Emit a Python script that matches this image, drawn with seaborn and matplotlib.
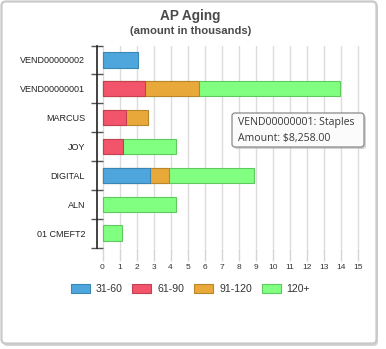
import matplotlib
matplotlib.use("Agg")
import matplotlib.pyplot as plt
from matplotlib.patches import FancyBboxPatch, Patch
from matplotlib.ticker import FixedLocator
import pandas as pd
import seaborn as sns

# AP aging buckets per vendor, in thousands of dollars
vendors = ["VEND00000002", "VEND00000001", "MARCUS", "JOY", "DIGITAL", "ALN", "01 CMEFT2"]
buckets = ["31-60", "61-90", "91-120", "120+"]
amt_31_60 = [2.1, 0.0, 0.0, 0.0, 2.8, 0.0, 0.0]
amt_61_90 = [0.0, 2.5, 1.4, 1.2, 0.0, 0.0, 0.0]
amt_91_120 = [0.0, 3.2, 1.3, 0.0, 1.1, 0.0, 0.0]
amt_120_plus = [0.0, 8.258, 0.0, 3.1, 5.0, 4.3, 1.15]
x_ticks = list(range(0, 16))

colors = {"31-60": "#4ea6dc", "61-90": "#f2546b", "91-120": "#e9a83a", "120+": "#80ff80"}
edges = {"31-60": "#3b86b4", "61-90": "#c2404f", "91-120": "#b9852b", "120+": "#5fc95f"}

W, H = 386, 349
sns.set_theme(style="white")
plt.rcParams["font.family"] = ["Liberation Sans", "DejaVu Sans"]

fig = plt.figure(figsize=(W / 100, H / 100), dpi=100)
fig.patch.set_facecolor("white")


def fx(px):
    return px / W


def fy(py):
    return 1 - py / H


# card background with shadow
shadow = FancyBboxPatch((fx(3), fy(346)), fx(375), (343 / H),
                        boxstyle="round,pad=0,rounding_size=0.012",
                        transform=fig.transFigure, facecolor="#d4d4d4",
                        edgecolor="none", zorder=0)
fig.patches.append(shadow)
card = FancyBboxPatch((fx(1.5), fy(343.5)), fx(375), (342 / H),
                      boxstyle="round,pad=0,rounding_size=0.012",
                      transform=fig.transFigure, facecolor="white",
                      edgecolor="#c9c9c9", linewidth=1.6, zorder=0.5)
fig.patches.append(card)

# stacked layout: draw cumulative totals back to front
series = {"31-60": amt_31_60, "61-90": amt_61_90, "91-120": amt_91_120, "120+": amt_120_plus}
rows = []
for i, v in enumerate(vendors):
    cum = 0.0
    for b in buckets:
        seg = series[b][i]
        cum += seg
        if seg > 0:
            rows.append({"vendor": v, "bucket": b, "total": cum})
df = pd.DataFrame(rows)

x0_px, unit_px = 102.5, 17.01
xmin = (96.7 - x0_px) / unit_px
xmax = (362.8 - x0_px) / unit_px
ax = fig.add_axes([fx(96.7), fy(247.5), fx(362.8) - fx(96.7), 202 / H])
ax.set_facecolor("none")
ax.set_zorder(2)

draw_order = buckets[::-1]
sns.barplot(data=df, y="vendor", x="total", hue="bucket", order=vendors,
            hue_order=draw_order, palette=colors, dodge=False, width=0.53,
            orient="h", errorbar=None, legend=False, ax=ax,
            linewidth=0.8, saturation=1)
for b, container in zip(draw_order, ax.containers):
    for patch in container:
        patch.set_edgecolor(edges[b])

ax.set_xlim(xmin, xmax)
ax.set_ylim(6.5, -0.5)
ax.set_xticks(x_ticks)
ax.set_xticklabels([str(t) for t in x_ticks])
ax.set_xlabel("")
ax.set_ylabel("")

for s in ["top", "right", "bottom"]:
    ax.spines[s].set_visible(False)
ax.spines["left"].set_color("#222222")
ax.spines["left"].set_linewidth(1.2)

ax.grid(axis="x", color="#dcdcdc", linewidth=1.0)
ax.set_axisbelow(True)
ax.tick_params(axis="x", length=9.4, width=1.0, color="#d6d6d6", pad=2.5,
               labelsize=6, labelcolor="#333333", bottom=True)
ax.tick_params(axis="y", which="major", length=0, pad=8.4, labelsize=6.5,
               labelcolor="#222222")
ax.yaxis.set_minor_locator(FixedLocator([k - 0.5 for k in range(len(vendors) + 1)]))
ax.tick_params(axis="y", which="minor", left=True, direction="inout",
               length=8, width=1.0, color="#555555")

# titles
fig.text(fx(190.5), fy(16), "AP Aging", ha="center", va="center",
         fontsize=9.8, fontweight="bold", color="#4a4a4a")
fig.text(fx(191), fy(31), "(amount in thousands)", ha="center", va="center",
         fontsize=8.1, fontweight="bold", color="#4a4a4a")

# legend
handles = [Patch(facecolor=colors[b], edgecolor=edges[b], linewidth=0.8, label=b)
           for b in buckets]
fig.legend(handles=handles, loc="center", bbox_to_anchor=(fx(190.5), fy(289)),
           ncol=4, frameon=False, fontsize=7.6, handlelength=1.8,
           handleheight=0.95, handletextpad=0.55, columnspacing=0.95,
           labelcolor="#333333")

# hover tooltip for the 120+ segment of VEND00000001
tip_idx = 1
tip_shadow = FancyBboxPatch((fx(234), fy(149)), fx(132), 34 / H,
                            boxstyle="round,pad=0,rounding_size=0.008",
                            transform=fig.transFigure, facecolor="#b8b8b8",
                            edgecolor="none", alpha=0.6, zorder=3)
fig.patches.append(tip_shadow)
tip = FancyBboxPatch((fx(232), fy(147)), fx(132), 34 / H,
                     boxstyle="round,pad=0,rounding_size=0.008",
                     transform=fig.transFigure, facecolor="#fbfbfb",
                     edgecolor="#8a8a8a", linewidth=0.9, zorder=4)
fig.patches.append(tip)
tip_lines = [f"{vendors[tip_idx]}: Staples",
             f"Amount: ${amt_120_plus[tip_idx] * 1000:,.2f}"]
fig.text(fx(237.5), fy(123), tip_lines[0], ha="left", va="center",
         fontsize=7.6, color="#3a3a3a", family=["Open Sans", "DejaVu Sans"], zorder=5)
fig.text(fx(237.5), fy(138.5), tip_lines[1], ha="left", va="center",
         fontsize=7.6, color="#3a3a3a", family=["Open Sans", "DejaVu Sans"], zorder=5)

fig.savefig("out.png", dpi=100)
